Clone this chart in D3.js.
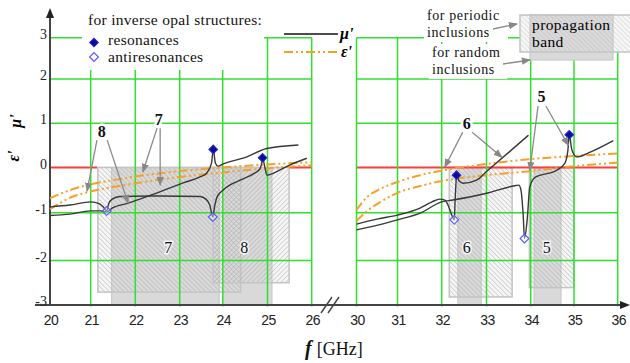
<!DOCTYPE html>
<html>
<head>
<meta charset="utf-8">
<script src="https://cdn.jsdelivr.net/npm/d3@7"></script>
<style>
  body { margin: 0; background: #fff; }
</style>
</head>
<body>
<svg id="chart" width="630" height="363" font-family="Liberation Serif, DejaVu Serif, serif"></svg>
<script>
// axis ticks
const leftTicks = [20, 21, 22, 23, 24, 25, 26];
const rightTicks = [30, 31, 32, 33, 34, 35, 36];
const yTicks = [-3, -2, -1, 0, 1, 2, 3];

// mu' curves, [f GHz, value]
const muLeftA = [
  [20, -0.87], [20.49, -0.83], [21.0, -0.76], [21.19, -0.80], [21.28, -0.87], [21.36, -0.96],
  [21.40, -0.81], [21.48, -0.70], [21.66, -0.64], [22.33, -0.63], [23.47, -0.64], [23.61, -0.70],
  [23.70, -0.83], [23.77, -1.09], [23.81, -0.87], [23.87, -0.65], [24.01, -0.50], [24.39, -0.28],
  [24.72, -0.12], [24.83, -0.03], [24.87, 0.10], [24.89, 0.22], [24.93, 0.06], [24.99, -0.17],
  [25.21, -0.09], [25.51, 0.06], [25.89, 0.21]
];
const muLeftB = [
  [20, -1.06], [20.49, -1.03], [21.0, -0.96], [21.23, -0.96], [21.36, -0.98], [21.48, -0.90],
  [21.84, -0.79], [22.33, -0.62], [23.08, -0.34], [23.47, -0.21], [23.63, -0.12], [23.74, 0.10],
  [23.78, 0.41], [23.83, 0.10], [23.89, 0.03], [24.01, 0.08], [24.54, 0.24], [24.98, 0.43], [25.70, 0.51]
];
const muRightA = [
  [30, -1.24], [30.52, -1.13], [31, -1.05], [31.51, -0.90], [31.78, -0.76], [31.96, -0.70],
  [32.07, -0.72], [32.14, -0.83], [32.21, -1.01], [32.28, -1.15], [32.30, -0.72], [32.32, -0.32],
  [32.33, -0.17], [32.39, -0.30], [32.48, -0.35], [32.78, -0.28], [33.0, -0.09], [33.95, 0.73]
];
const muRightB = [
  [30, -1.36], [30.52, -1.26], [31, -1.15], [31.51, -1.01], [32, -0.76], [32.25, -0.72],
  [33.0, -0.57], [33.60, -0.41], [33.73, -0.39], [33.78, -0.50], [33.83, -1.05], [33.86, -1.54],
  [33.92, -1.15], [33.98, -0.43], [34.10, -0.22], [34.60, -0.06], [34.79, 0.10], [34.86, 0.40],
  [34.89, 0.74], [34.95, 0.40], [35.06, 0.24], [35.37, 0.35], [35.90, 0.61]
];

// eps' curves
const epsLeftA = [[20, -0.68], [20.49, -0.50], [21, -0.37], [21.5, -0.28], [22, -0.20], [23, -0.08], [24, 0.0], [25, 0.07], [26, 0.12]];
const epsLeftB = [[20, -0.92], [20.49, -0.67], [21, -0.53], [21.5, -0.43], [22, -0.35], [23, -0.21], [24, -0.11], [25, -0.02], [26, 0.05]];
const epsRightA = [[30, -0.94], [30.26, -0.65], [30.52, -0.50], [31, -0.32], [31.51, -0.17], [32, -0.07], [33, 0.08], [34, 0.19], [35, 0.26], [36, 0.32]];
const epsRightB = [[30, -1.17], [30.26, -0.96], [30.52, -0.80], [31, -0.56], [31.51, -0.41], [32, -0.30], [33, -0.17], [34, -0.08], [35, 0.03], [36, 0.11]];

// inverse opal markers
const resonancesLeft = [[23.78, 0.41], [24.89, 0.22]];
const resonancesRight = [[32.33, -0.17], [34.89, 0.74]];
const antiresLeft = [[21.36, -0.96], [23.77, -1.09]];
const antiresRight = [[32.28, -1.15], [33.86, -1.54]];

// propagation bands [f0, f1, bottom]
const periodicLeft = [[21.16, 24.40, -2.71, "b"], [23.78, 25.49, -2.50, "f"]];
const periodicRight = [[32.17, 33.58, -2.82, "b"], [33.97, 35.0, -2.61, "b"]];
const randomLeft = [[21.47, 23.92], [24.0, 25.10]];
const randomRight = [[32.36, 32.88], [34.08, 34.70]];
const bandLabelsLeft = [["7", 22.74, -1.74], ["8", 24.48, -1.74]];
const bandLabelsRight = [["6", 32.56, -1.74], ["5", 34.37, -1.74]];

// number labels with their arrows [f0, v0, f1, v1]
const notesLeft = [
  ["8", 21.25, 0.80, [[21.14, 0.62, 20.91, -0.52], [21.37, 0.62, 21.84, -0.79]]],
  ["7", 22.53, 1.07, [[22.49, 0.89, 22.17, -0.10], [22.56, 0.89, 22.56, -0.39]]]
];
const notesRight = [
  ["6", 32.56, 0.99, [[32.47, 0.80, 32.07, 0.01], [32.68, 0.80, 33.35, 0.23]]],
  ["5", 34.25, 1.59, [[34.17, 1.39, 33.98, -0.06], [34.35, 1.39, 34.87, 0.50]]]
];

const svg = d3.select("#chart");
const y = d3.scaleLinear().domain(yTicks).range([305, 260.5, 212.7, 167.5, 123.3, 79, 37.7]);
const xL = d3.scaleLinear().domain(leftTicks).range([50, 90.7, 135.3, 179.7, 222.7, 267.5, 311.7]);
const xR = d3.scaleLinear().domain(rightTicks).range([356.5, 397.5, 441.7, 486.5, 530.7, 574, 617.7]);

const SERIF = "Liberation Serif, DejaVu Serif, serif";
const GREEN = "#2fe02f", RED = "#ff3c3c", ORANGE = "#f5a029", DARK = "#383838";
const EPS_DASH = "9,3,2,3,2,3";

const defs = svg.append("defs");
function hatch(id, angle) {
  const p = defs.append("pattern").attr("id", id).attr("patternUnits", "userSpaceOnUse")
    .attr("width", 3.4).attr("height", 3.4).attr("patternTransform", `rotate(${angle})`);
  p.append("line").attr("x1", 0).attr("y1", 0).attr("x2", 0).attr("y2", 3.4)
    .attr("stroke", "#a8a8a8").attr("stroke-width", 0.9);
}
hatch("hb", -45);
hatch("hf", 45);
defs.append("marker").attr("id", "arr").attr("viewBox", "0 0 10 10").attr("refX", 9).attr("refY", 5)
  .attr("markerWidth", 7).attr("markerHeight", 7).attr("orient", "auto")
  .append("path").attr("d", "M0,1 L10,5 L0,9 Z").attr("fill", "#888");

const panels = [
  { x: xL, ticks: leftTicks, mu: [muLeftA, muLeftB], eps: [epsLeftA, epsLeftB],
    res: resonancesLeft, anti: antiresLeft, periodic: periodicLeft, random: randomLeft,
    labels: bandLabelsLeft, notes: notesLeft, zeroOnTop: false },
  { x: xR, ticks: rightTicks, mu: [muRightA, muRightB], eps: [epsRightA, epsRightB],
    res: resonancesRight, anti: antiresRight, periodic: periodicRight, random: randomRight,
    labels: bandLabelsRight, notes: notesRight, zeroOnTop: true }
];

const gBack = svg.append("g"), gBands = svg.append("g"), gGrid = svg.append("g"),
      gCover = svg.append("g"), gAxes = svg.append("g"), gLines = svg.append("g"),
      gMarks = svg.append("g"), gText = svg.append("g");

function zeroLine(g, p) {
  g.append("line").attr("x1", p.x.range()[0]).attr("x2", p.x.range()[6])
    .attr("y1", y(0)).attr("y2", y(0)).attr("stroke", RED).attr("stroke-width", 2);
}

panels.forEach(p => {
  const x = p.x, x0 = x.range()[0], x1 = x.range()[6];
  if (!p.zeroOnTop) zeroLine(gBack, p);

  // periodic bands get a light base, then random (solid) bands, then the hatch on top
  gBands.selectAll(null).data(p.periodic).join("rect")
    .attr("x", d => x(d[0]) - 0.75).attr("width", d => x(d[1]) - x(d[0]) + 1.5)
    .attr("y", y(0) - 1.5).attr("height", d => y(d[2]) - y(0) + 1.5).attr("fill", "#f6f6f6");
  gBands.selectAll(null).data(p.random).join("rect")
    .attr("x", d => x(d[0])).attr("width", d => x(d[1]) - x(d[0]))
    .attr("y", y(0)).attr("height", y(-3) - y(0))
    .attr("fill", "#d9d9d9").attr("stroke", "#cacaca").attr("stroke-width", 1.2);
  gBands.selectAll(null).data(p.periodic).join("rect")
    .attr("x", d => x(d[0])).attr("width", d => x(d[1]) - x(d[0]))
    .attr("y", y(0)).attr("height", d => y(d[2]) - y(0))
    .attr("fill", d => d[3] === "f" ? "url(#hf)" : "url(#hb)")
    .attr("stroke", "#c4c4c4").attr("stroke-width", 1.5);

  if (p.zeroOnTop) zeroLine(gBands, p);

  // grid
  gGrid.selectAll(null).data(p.ticks.filter(t => x(t) > 51)).join("line")
    .attr("x1", d => x(d)).attr("x2", d => x(d)).attr("y1", y(3)).attr("y2", y(-3) + 1.5)
    .attr("stroke", GREEN).attr("stroke-width", 1.5);
  gGrid.selectAll(null).data(yTicks.filter(v => v !== 0 && v !== -3)).join("line")
    .attr("x1", x0).attr("x2", x1).attr("y1", d => y(d)).attr("y2", d => y(d))
    .attr("stroke", GREEN).attr("stroke-width", 1.5);

  // x tick labels
  gAxes.selectAll(null).data(p.ticks).join("text")
    .attr("x", d => x(d) + 1).attr("y", 325).attr("text-anchor", "middle")
    .attr("font-family", "Liberation Sans, Arial, sans-serif").attr("font-size", 14)
    .attr("letter-spacing", -0.6).attr("fill", "#222").text(d => d);

  // curves
  const line = d3.line().x(d => x(d[0])).y(d => y(d[1])).curve(d3.curveMonotoneX);
  gLines.selectAll(null).data(p.eps).join("path").attr("d", line)
    .attr("fill", "none").attr("stroke", ORANGE).attr("stroke-width", 2).attr("stroke-dasharray", EPS_DASH);
  gLines.selectAll(null).data(p.mu).join("path").attr("d", line)
    .attr("fill", "none").attr("stroke", DARK).attr("stroke-width", 1.4);

  // markers
  const diamond = d3.symbol(d3.symbolSquare, 38);
  gMarks.selectAll(null).data(p.anti).join("path").attr("d", diamond)
    .attr("transform", d => `translate(${x(d[0])},${y(d[1])}) rotate(45)`)
    .attr("fill", "rgba(255,255,255,0.4)").attr("stroke", "#5c5cff").attr("stroke-width", 1.2);
  gMarks.selectAll(null).data(p.res).join("path").attr("d", diamond)
    .attr("transform", d => `translate(${x(d[0])},${y(d[1])}) rotate(45)`)
    .attr("fill", "#0c0c9c").attr("stroke", "#2a2ad0").attr("stroke-width", 1);

  // number annotations
  p.notes.forEach(n => {
    gText.selectAll(null).data(n[3]).join("line")
      .attr("x1", d => x(d[0])).attr("y1", d => y(d[1])).attr("x2", d => x(d[2])).attr("y2", d => y(d[3]))
      .attr("stroke", "#8a8a8a").attr("stroke-width", 1.3).attr("marker-end", "url(#arr)");
    gText.append("text").attr("x", x(n[1])).attr("y", y(n[2]) + 5).attr("text-anchor", "middle")
      .attr("font-family", SERIF).attr("font-size", 16).attr("font-weight", "bold").attr("fill", "#111")
      .attr("stroke", "#fff").attr("stroke-width", 5).attr("paint-order", "stroke").text(n[0]);
  });
  gText.selectAll(null).data(p.labels).join("text")
    .attr("x", d => x(d[1])).attr("y", d => y(d[2]) + 5).attr("text-anchor", "middle")
    .attr("font-family", SERIF).attr("font-size", 16).attr("fill", "#111").attr("stroke", "#fff").attr("stroke-width", 3)
    .attr("stroke-opacity", 0.8).attr("paint-order", "stroke").text(d => d[0]);
});

// white backing for legend text
[[82, 8, 182, 62], [424, 6, 84, 36], [429, 44, 78, 35]].forEach(r =>
  gCover.append("rect").attr("x", r[0]).attr("y", r[1]).attr("width", r[2]).attr("height", r[3]).attr("fill", "#fff"));

// axes
const AX = "#444";
gAxes.append("line").attr("x1", 35).attr("x2", 622).attr("y1", y(-3)).attr("y2", y(-3))
  .attr("stroke", AX).attr("stroke-width", 2);
gAxes.append("path").attr("d", `M630,${y(-3)} L620,${y(-3) - 4} L620,${y(-3) + 4} Z`).attr("fill", "#222");
gAxes.append("line").attr("x1", xL(20)).attr("x2", xL(20)).attr("y1", y(-3)).attr("y2", 15)
  .attr("stroke", AX).attr("stroke-width", 2);
gAxes.append("path").attr("d", `M${xL(20)},8 L${xL(20) - 4},18 L${xL(20) + 4},18 Z`).attr("fill", "#222");
[[321, 332], [328, 339]].forEach(s =>
  gAxes.append("line").attr("x1", s[0]).attr("y1", 313).attr("x2", s[1]).attr("y2", 297)
    .attr("stroke", AX).attr("stroke-width", 1.4));
gAxes.selectAll(null).data(yTicks).join("text")
  .attr("x", 47).attr("y", d => y(d) + 1).attr("text-anchor", "end")
  .attr("font-family", SERIF).attr("font-size", 14).attr("fill", "#222").text(d => d);

// axis titles
const xt = gText.append("text").attr("x", 305).attr("y", 355).attr("font-family", SERIF)
  .attr("font-size", 18).attr("fill", "#111");
xt.append("tspan").attr("font-weight", "bold").attr("font-style", "italic").attr("font-size", 20).text("f");
xt.append("tspan").attr("dx", 5).text("[GHz]");
gText.append("text").attr("transform", "translate(21,121) rotate(-90)").attr("text-anchor", "middle")
  .attr("font-family", SERIF).attr("font-size", 16).attr("font-weight", "bold").attr("font-style", "italic").text("μ'");
gText.append("text").attr("transform", "translate(19,156) rotate(-90)").attr("text-anchor", "middle")
  .attr("font-family", SERIF).attr("font-size", 16).attr("font-weight", "bold").attr("font-style", "italic").text("ε'");

// legends
const leg = gText.append("g").attr("font-family", SERIF).attr("font-size", 15.5)
  .attr("letter-spacing", 0.3).attr("fill", "#111");
leg.append("text").attr("x", 88).attr("y", 25).text("for inverse opal structures:");
leg.append("text").attr("x", 108).attr("y", 45).text("resonances");
leg.append("text").attr("x", 108).attr("y", 62).text("antiresonances");
leg.append("path").attr("d", d3.symbol(d3.symbolSquare, 38)).attr("transform", "translate(94,42.5) rotate(45)")
  .attr("fill", "#0c0c9c").attr("stroke", "#2a2ad0");
leg.append("path").attr("d", d3.symbol(d3.symbolSquare, 38)).attr("transform", "translate(94,57) rotate(45)")
  .attr("fill", "#fff").attr("stroke", "#5c5cff").attr("stroke-width", 1.2);

gText.append("line").attr("x1", 284).attr("x2", 338).attr("y1", 34).attr("y2", 34)
  .attr("stroke", "#111").attr("stroke-width", 1.5);
gText.append("line").attr("x1", 284).attr("x2", 338).attr("y1", 52).attr("y2", 52)
  .attr("stroke", ORANGE).attr("stroke-width", 2).attr("stroke-dasharray", EPS_DASH);
gText.append("text").attr("x", 340).attr("y", 39).attr("font-family", SERIF).attr("font-size", 16)
  .attr("font-weight", "bold").attr("font-style", "italic").text("μ'");
gText.append("text").attr("x", 341).attr("y", 57).attr("font-family", SERIF).attr("font-size", 16)
  .attr("font-weight", "bold").attr("font-style", "italic").text("ε'");

// propagation band legend
const pb = gText.append("g").attr("font-family", SERIF);
pb.append("rect").attr("x", 520).attr("y", 15).attr("width", 115).attr("height", 37).attr("fill", "#f6f6f6");
pb.append("rect").attr("x", 530).attr("y", 15).attr("width", 83).attr("height", 45)
  .attr("fill", "#d9d9d9").attr("stroke", "#cacaca").attr("stroke-width", 1.2);
pb.append("rect").attr("x", 520).attr("y", 15).attr("width", 115).attr("height", 37)
  .attr("fill", "url(#hb)").attr("fill-opacity", 0.6).attr("stroke", "#c4c4c4").attr("stroke-width", 1.5);
pb.append("text").attr("x", 532).attr("y", 30).attr("font-size", 15.5).attr("letter-spacing", 0.4).text("propagation");
pb.append("text").attr("x", 532).attr("y", 47).attr("font-size", 15.5).attr("letter-spacing", 0.4).text("band");

const inc = gText.append("g").attr("font-family", SERIF).attr("font-size", 14)
  .attr("letter-spacing", 0.6).attr("fill", "#111");
inc.append("text").attr("x", 427).attr("y", 20).text("for periodic");
inc.append("text").attr("x", 427).attr("y", 37).text("inclusions");
inc.append("text").attr("x", 432).attr("y", 57).text("for random");
inc.append("text").attr("x", 432).attr("y", 74).text("inclusions");
[[493, 29, 517, 24], [503, 64, 530, 60]].forEach(a =>
  gText.append("line").attr("x1", a[0]).attr("y1", a[1]).attr("x2", a[2]).attr("y2", a[3])
    .attr("stroke", "#8a8a8a").attr("stroke-width", 1.3).attr("marker-end", "url(#arr)"));
</script>
</body>
</html>
